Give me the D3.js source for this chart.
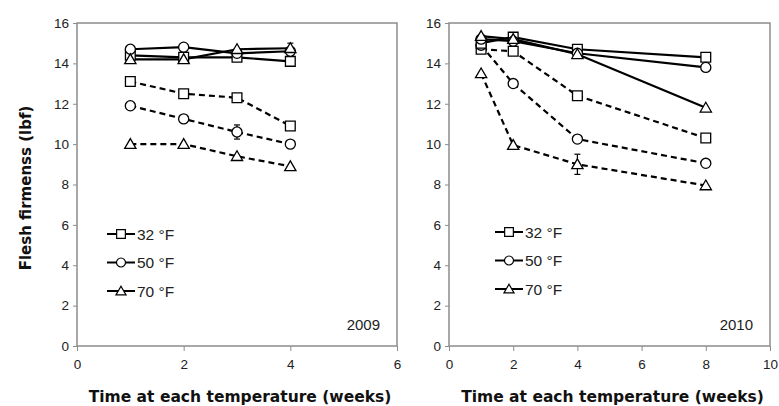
<!DOCTYPE html>
<html>
<head>
<meta charset="utf-8">
<script src="https://cdn.jsdelivr.net/npm/d3@7"></script>
<style>
  body { margin: 0; background: #fff; }
  svg { display: block; }
  .tick text { font-family: "Liberation Sans", Arial, sans-serif; font-size: 13.5px; fill: #222; }
  .axis path, .axis line { stroke: #8c8c8c; }
</style>
</head>
<body>
<svg id="chart" width="779" height="406"></svg>
<script>
// weeks sampled in each year
let weeks2009 = [1, 2, 3, 4]
let weeks2010 = [1, 2, 4, 8]

// solid lines (treated) and dashed lines (untreated), lbf
let solid32_2009 = [14.4, 14.3, 14.3, 14.1]
let solid50_2009 = [14.7, 14.8, 14.5, 14.6]
let solid70_2009 = [14.2, 14.2, 14.7, 14.75]
let dash32_2009 = [13.1, 12.5, 12.3, 10.9]
let dash50_2009 = [11.9, 11.25, 10.6, 10.0]
let dash70_2009 = [10.0, 10.0, 9.4, 8.9]

let solid32_2010 = [15.0, 15.3, 14.7, 14.3]
let solid50_2010 = [15.2, 15.1, 14.5, 13.8]
let solid70_2010 = [15.35, 15.2, 14.45, 11.8]
let dash32_2010 = [14.7, 14.6, 12.4, 10.3]
let dash50_2010 = [14.9, 13.0, 10.25, 9.05]
let dash70_2010 = [13.5, 9.95, 9.0, 7.95]

// error bars: [series key, point index, +/-]
let errors2009 = [["d50", 2, 0.35], ["s70", 3, 0.25]]
let errors2010 = [["d70", 2, 0.5]]

let yTicks = [0, 2, 4, 6, 8, 10, 12, 14, 16]
let xTicks2009 = [0, 2, 4, 6]
let xTicks2010 = [0, 2, 4, 6, 8, 10]
let legendLabels = ["32 °F", "50 °F", "70 °F"]

let svg = d3.select("#chart")
let font = "'Liberation Sans', Arial, sans-serif"
let titleFont = "'DejaVu Sans', Verdana, sans-serif"

let shapes = [d3.symbolSquare, d3.symbolCircle, d3.symbolTriangle]
let shapeSizes = [95, 80, 55]

function drawPanel(opts) {
    let xScale = d3.scaleLinear().domain([0, opts.xMax]).range([opts.left, opts.right])
    let yScale = d3.scaleLinear().domain([0, 16]).range([346, 23])

    let g = svg.append("g")

    // frame
    g.append("rect")
        .attr("x", opts.left).attr("y", 23)
        .attr("width", opts.right - opts.left).attr("height", 346 - 23)
        .attr("fill", "none").attr("stroke", "#8c8c8c").attr("stroke-width", 1.5)

    // axes
    g.append("g").attr("class", "axis")
        .attr("transform", `translate(${opts.left},0)`)
        .call(d3.axisLeft(yScale).tickValues(yTicks).tickFormat(d3.format("d"))
            .tickSize(4).tickPadding(4).tickSizeOuter(0))
        .call(a => a.select(".domain").remove())
    g.append("g").attr("class", "axis")
        .attr("transform", `translate(0,346)`)
        .call(d3.axisBottom(xScale).tickValues(opts.xTicks).tickFormat(d3.format("d"))
            .tickSize(5).tickPadding(8).tickSizeOuter(0))
        .call(a => a.select(".domain").remove())

    // lines
    let line = d3.line()
        .x((d, i) => xScale(opts.weeks[i]))
        .y(d => yScale(d))

    let series = [
        { key: "d32", vals: opts.dash[0], shape: 0, dashed: true },
        { key: "d50", vals: opts.dash[1], shape: 1, dashed: true },
        { key: "d70", vals: opts.dash[2], shape: 2, dashed: true },
        { key: "s32", vals: opts.solid[0], shape: 0, dashed: false },
        { key: "s50", vals: opts.solid[1], shape: 1, dashed: false },
        { key: "s70", vals: opts.solid[2], shape: 2, dashed: false }
    ]

    for (let s of series) {
        g.append("path")
            .attr("d", line(s.vals))
            .attr("fill", "none")
            .attr("stroke", "#000")
            .attr("stroke-width", 2.2)
            .attr("stroke-dasharray", s.dashed ? "6,4" : null)
    }

    // error bars
    for (let e of opts.errors) {
        let s = series.find(d => d.key == e[0])
        let x = xScale(opts.weeks[e[1]])
        let v = s.vals[e[1]]
        g.append("line")
            .attr("x1", x).attr("x2", x)
            .attr("y1", yScale(v - e[2])).attr("y2", yScale(v + e[2]))
            .attr("stroke", "#000").attr("stroke-width", 1.2)
        for (let yy of [v - e[2], v + e[2]]) {
            g.append("line")
                .attr("x1", x - 3).attr("x2", x + 3)
                .attr("y1", yScale(yy)).attr("y2", yScale(yy))
                .attr("stroke", "#000").attr("stroke-width", 1.2)
        }
    }

    // markers
    for (let s of series) {
        g.selectAll(null)
            .data(s.vals)
            .enter()
            .append("path")
            .attr("d", d3.symbol().type(shapes[s.shape]).size(shapeSizes[s.shape]))
            .attr("transform", (d, i) => `translate(${xScale(opts.weeks[i])},${yScale(d) + (s.shape == 2 ? 1 : 0)})`)
            .attr("fill", "#fff")
            .attr("stroke", "#000")
            .attr("stroke-width", 1.3)
    }

    // legend
    legendLabels.forEach(function(lab, i) {
        let y = opts.legendY + i * 28.5
        g.append("line")
            .attr("x1", opts.legendX).attr("x2", opts.legendX + 28)
            .attr("y1", y).attr("y2", y)
            .attr("stroke", "#000").attr("stroke-width", 2)
        g.append("path")
            .attr("d", d3.symbol().type(shapes[i]).size(shapeSizes[i] * 0.8))
            .attr("transform", `translate(${opts.legendX + 14},${y + (i == 2 ? 1 : 0)})`)
            .attr("fill", "#fff").attr("stroke", "#000").attr("stroke-width", 1.2)
        g.append("text")
            .attr("x", opts.legendX + 30).attr("y", y + 5.5)
            .attr("font-family", font).attr("font-size", 15.5).attr("fill", "#222")
            .text(lab)
    })

    // year tag
    g.append("text")
        .attr("x", opts.right - 17).attr("y", 330)
        .attr("text-anchor", "end")
        .attr("font-family", font).attr("font-size", 15).attr("fill", "#222")
        .text(opts.year)

    // x label
    g.append("text")
        .attr("x", (opts.left + opts.right) / 2 + 3).attr("y", 402)
        .attr("text-anchor", "middle")
        .attr("font-family", titleFont).attr("font-size", 15.5).attr("font-weight", "bold")
        .attr("fill", "#111")
        .text("Time at each temperature (weeks)")
}

drawPanel({
    left: 77, right: 397, xMax: 6, xTicks: xTicks2009, weeks: weeks2009,
    solid: [solid32_2009, solid50_2009, solid70_2009],
    dash: [dash32_2009, dash50_2009, dash70_2009],
    errors: errors2009, legendX: 107, legendY: 234, year: "2009"
})
drawPanel({
    left: 449, right: 770, xMax: 10, xTicks: xTicks2010, weeks: weeks2010,
    solid: [solid32_2010, solid50_2010, solid70_2010],
    dash: [dash32_2010, dash50_2010, dash70_2010],
    errors: errors2010, legendX: 495, legendY: 232, year: "2010"
})

// y label
svg.append("text")
    .attr("transform", "translate(31,188) rotate(-90)")
    .attr("text-anchor", "middle")
    .attr("font-family", titleFont).attr("font-size", 15).attr("font-weight", "bold")
    .attr("fill", "#111")
    .text("Flesh firmenss (lbf)")
</script>
</body>
</html>
